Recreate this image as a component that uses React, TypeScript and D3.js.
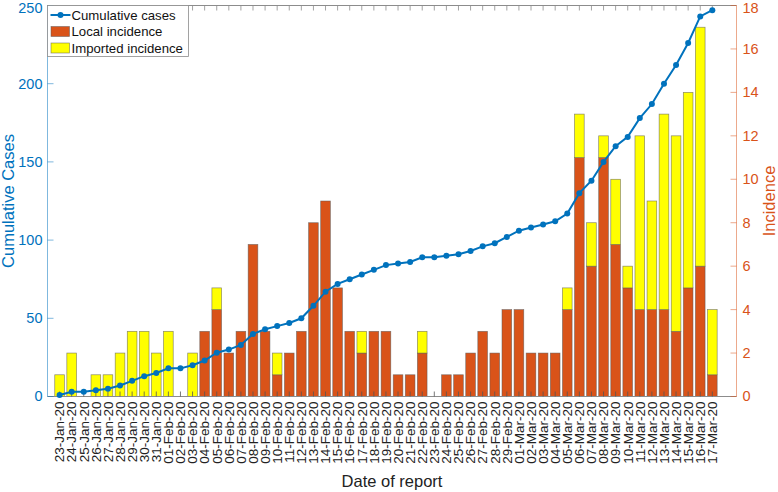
import React from 'react';
import * as d3 from 'd3';

const dates = [
  '23-Jan-20', '24-Jan-20', '25-Jan-20', '26-Jan-20', '27-Jan-20', '28-Jan-20', '29-Jan-20', '30-Jan-20', '31-Jan-20',
  '01-Feb-20', '02-Feb-20', '03-Feb-20', '04-Feb-20', '05-Feb-20', '06-Feb-20', '07-Feb-20', '08-Feb-20', '09-Feb-20', '10-Feb-20',
  '11-Feb-20', '12-Feb-20', '13-Feb-20', '14-Feb-20', '15-Feb-20', '16-Feb-20', '17-Feb-20', '18-Feb-20', '19-Feb-20', '20-Feb-20',
  '21-Feb-20', '22-Feb-20', '23-Feb-20', '24-Feb-20', '25-Feb-20', '26-Feb-20', '27-Feb-20', '28-Feb-20', '29-Feb-20',
  '01-Mar-20', '02-Mar-20', '03-Mar-20', '04-Mar-20', '05-Mar-20', '06-Mar-20', '07-Mar-20', '08-Mar-20', '09-Mar-20', '10-Mar-20',
  '11-Mar-20', '12-Mar-20', '13-Mar-20', '14-Mar-20', '15-Mar-20', '16-Mar-20', '17-Mar-20',
];

const localIncidence = [
  0, 0, 0, 0, 0, 0, 0, 0, 0,
  0, 0, 0, 3, 4, 2, 3, 7, 3, 1,
  2, 3, 8, 9, 5, 3, 2, 3, 3, 1,
  1, 2, 0, 1, 1, 2, 3, 2, 4,
  4, 2, 2, 2, 4, 11, 6, 11, 7, 5,
  4, 4, 4, 3, 5, 6, 1,
];

const importedIncidence = [
  1, 2, 0, 1, 1, 2, 3, 3, 2,
  3, 0, 2, 0, 1, 0, 0, 0, 0, 1,
  0, 0, 0, 0, 0, 0, 1, 0, 0, 0,
  0, 1, 0, 0, 0, 0, 0, 0, 0,
  0, 0, 0, 0, 1, 2, 2, 1, 3, 1,
  8, 5, 9, 9, 9, 11, 3,
];

const cumulativeCases = [
  1, 3, 3, 4, 5, 7, 10, 13, 15,
  18, 18, 20, 23, 28, 30, 33, 40, 43, 45,
  47, 50, 58, 67, 72, 75, 78, 81, 84, 85,
  86, 89, 89, 90, 91, 93, 96, 98, 102,
  106, 108, 110, 112, 117, 130, 138, 150, 160, 166,
  178, 187, 200, 212, 226, 243, 247,
];

const leftTicks = [0, 50, 100, 150, 200, 250];
const rightTicks = [0, 2, 4, 6, 8, 10, 12, 14, 16, 18];

const BLUE = '#0072BD';
const ORANGE = '#D95319';
const YELLOW = '#FFFF00';
const FONT = '"Liberation Sans", Arial, Helvetica, sans-serif';

export default function App() {
  const W = 778;
  const H = 492;
  const xL = 47.5;
  const xR = 736.5;
  const yB = 396.5;
  const yT = 5.5;

  const x = d3.scaleLinear().domain([0, 57]).range([xL, xR]);
  const yLeft = d3.scaleLinear().domain([0, 250]).range([yB, yT]);
  const yRight = d3.scaleLinear().domain([0, 18]).range([yB, yT]);
  const bw = (x(1) - x(0)) * 0.8;

  const rows = dates.map((d, i) => ({ date: d, local: localIncidence[i], imported: importedIncidence[i], idx: i + 1 }));
  const stack = d3.stack<any>().keys(['local', 'imported']);
  const series = stack(rows);
  const colors: Record<string, string> = { local: ORANGE, imported: YELLOW };

  const line = d3
    .line<number>()
    .x((_, i) => x(i + 1))
    .y((d) => yLeft(d));

  const labelY = (y: number) => Math.max(y, 8.5);

  return (
    <svg width={W} height={H} style={{ position: 'absolute', left: 0, top: 0, background: '#fff' }} fontFamily={FONT}>
      <rect x={0} y={0} width={W} height={H} fill="#fff" />
      {/* bars */}
      {series.map((s) => (
        <g key={s.key}>
          {s.map((d, i) =>
            d[1] - d[0] > 0 ? (
              <rect
                key={i}
                x={x(i + 1) - bw / 2}
                y={yRight(d[1])}
                width={bw}
                height={yRight(d[0]) - yRight(d[1])}
                fill={colors[s.key]}
                stroke="#5a5a5a"
                strokeOpacity={0.7}
                strokeWidth={0.7}
              />
            ) : null
          )}
        </g>
      ))}

      {/* box top and bottom */}
      <line x1={xL} x2={xR} y1={yT} y2={yT} stroke="#8c8c8c" strokeWidth={1} />
      <line x1={xL} x2={xR} y1={yB} y2={yB} stroke="#8c8c8c" strokeWidth={1} />
      {dates.map((d, i) => (
        <g key={d}>
          <line x1={x(i + 1)} x2={x(i + 1)} y1={yB} y2={yB - 5} stroke="#555" strokeWidth={0.8} />
          <line x1={x(i + 1)} x2={x(i + 1)} y1={yT} y2={yT + 5} stroke="#8c8c8c" strokeWidth={0.8} />
          <text
            transform={`translate(${x(i + 1) + 4.8},${yB + 5}) rotate(-90)`}
            textAnchor="end"
            fontSize={13.5}
            fill="#222"
          >
            {d}
          </text>
        </g>
      ))}

      {/* left axis */}
      <line x1={xL} x2={xL} y1={yT} y2={yB} stroke={BLUE} strokeOpacity={0.5} strokeWidth={1} />
      {leftTicks.map((t) => (
        <g key={t}>
          <line x1={xL} x2={xL + 6} y1={yLeft(t)} y2={yLeft(t)} stroke={BLUE} strokeOpacity={0.5} strokeWidth={1} />
          <text x={xL - 5} y={labelY(yLeft(t))} dy="0.34em" textAnchor="end" fontSize={14.5} fill={BLUE}>
            {t}
          </text>
        </g>
      ))}
      <text transform={`translate(14,${(yT + yB) / 2}) rotate(-90)`} textAnchor="middle" fontSize={16.5} fill={BLUE}>
        Cumulative Cases
      </text>

      {/* right axis */}
      <line x1={xR} x2={xR} y1={yT} y2={yB} stroke={ORANGE} strokeOpacity={0.5} strokeWidth={1} />
      {rightTicks.map((t) => (
        <g key={t}>
          <line x1={xR - 6} x2={xR} y1={yRight(t)} y2={yRight(t)} stroke={ORANGE} strokeOpacity={0.5} strokeWidth={1} />
          <text x={xR + 6} y={labelY(yRight(t))} dy="0.34em" textAnchor="start" fontSize={14.5} fill={ORANGE}>
            {t}
          </text>
        </g>
      ))}
      <text transform={`translate(775,${(yT + yB) / 2}) rotate(-90)`} textAnchor="middle" fontSize={16.5} fill={ORANGE}>
        Incidence
      </text>

      {/* cumulative line */}
      <path d={line(cumulativeCases) || ''} fill="none" stroke={BLUE} strokeWidth={2} />
      {cumulativeCases.map((c, i) => (
        <circle key={i} cx={x(i + 1)} cy={yLeft(c)} r={3} fill={BLUE} />
      ))}

      {/* x label */}
      <text x={(xL + xR) / 2} y={487} textAnchor="middle" fontSize={16.5} fill="#222">
        Date of report
      </text>

      {/* legend */}
      <g>
        <rect x={xL} y={yT} width={141} height={51} fill="#fff" stroke="#8c8c8c" strokeWidth={0.8} />
        <line x1={xL + 3} x2={xL + 23} y1={yT + 9.5} y2={yT + 9.5} stroke={BLUE} strokeWidth={2} />
        <circle cx={xL + 13} cy={yT + 9.5} r={3} fill={BLUE} />
        <text x={xL + 24} y={yT + 9.5} dy="0.35em" fontSize={13.2} fill="#111">Cumulative cases</text>
        <rect x={xL + 3.5} y={yT + 21} width={18.5} height={10} fill={ORANGE} stroke="#5a5a5a" strokeOpacity={0.7} strokeWidth={0.7} />
        <text x={xL + 24} y={yT + 26} dy="0.35em" fontSize={13.2} fill="#111">Local incidence</text>
        <rect x={xL + 3.5} y={yT + 37.5} width={18.5} height={10} fill={YELLOW} stroke="#5a5a5a" strokeOpacity={0.7} strokeWidth={0.7} />
        <text x={xL + 24} y={yT + 42.5} dy="0.35em" fontSize={13.2} fill="#111">Imported incidence</text>
      </g>
    </svg>
  );
}
